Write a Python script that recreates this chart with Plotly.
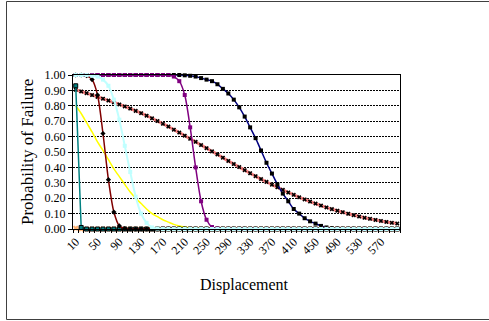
import plotly.graph_objects as go

displacement = list(range(10, 610, 10))
tick_labels = [10, 50, 90, 130, 170, 210, 250, 290, 330, 370, 410, 450, 490, 530, 570]
y_ticks = [0.0, 0.1, 0.2, 0.3, 0.4, 0.5, 0.6, 0.7, 0.8, 0.9, 1.0]

salmon = [0.904, 0.893, 0.882, 0.870, 0.858, 0.846, 0.834, 0.822, 0.809, 0.796,
          0.782, 0.767, 0.752, 0.736, 0.719, 0.701, 0.683, 0.665, 0.645, 0.626,
          0.606, 0.586, 0.566, 0.545, 0.525, 0.504, 0.484, 0.463, 0.442, 0.422,
          0.402, 0.382, 0.362, 0.343, 0.324, 0.306, 0.288, 0.271, 0.254, 0.237,
          0.222, 0.206, 0.192, 0.178, 0.165, 0.152, 0.140, 0.129, 0.119, 0.109,
          0.099, 0.090, 0.081, 0.073, 0.066, 0.059, 0.052, 0.046, 0.040, 0.035]

navy = [1.00, 1.00, 1.00, 1.00, 1.00, 1.00, 1.00, 1.00, 1.00, 1.00,
        1.00, 1.00, 1.00, 1.00, 1.00, 1.00, 1.00, 1.00, 1.00, 1.00,
        0.998, 0.995, 0.99, 0.98, 0.97, 0.96, 0.94, 0.91, 0.88, 0.84,
        0.79, 0.73, 0.66, 0.59, 0.51, 0.43, 0.36, 0.29, 0.23, 0.18,
        0.13, 0.10, 0.07, 0.05, 0.035, 0.02, 0.01, 0.005, 0.002, 0.0,
        0.0, 0.0, 0.0, 0.0, 0.0, 0.0, 0.0, 0.0, 0.0, 0.0]

peach = [0.005, 0.0, 0.0, 0.0, 0.0, 0.0, 0.0, 0.0, 0.0, 0.0,
         0.0, 0.0, 0.0, 0.0, 0.0, 0.0, 0.0, 0.0, 0.0, 0.0,
         0.0, 0.0, 0.0, 0.0, 0.0, 0.0, 0.0, 0.0, 0.0, 0.0,
         0.0, 0.0, 0.0, 0.0, 0.0, 0.0, 0.0, 0.0, 0.0, 0.0,
         0.0, 0.0, 0.0, 0.0, 0.0, 0.0, 0.0, 0.0, 0.0, 0.0,
         0.0, 0.0, 0.0, 0.0, 0.0, 0.0, 0.0, 0.0, 0.0, 0.0]

yellow = [0.80, 0.75, 0.69, 0.63, 0.565, 0.51, 0.45, 0.39, 0.34, 0.29,
          0.24, 0.20, 0.165, 0.13, 0.10, 0.08, 0.06, 0.045, 0.03, 0.02,
          0.013, 0.008, 0.005, 0.003, 0.001, 0.0, 0.0, 0.0, 0.0, 0.0,
          0.0, 0.0, 0.0, 0.0, 0.0, 0.0, 0.0, 0.0, 0.0, 0.0,
          0.0, 0.0, 0.0, 0.0, 0.0, 0.0, 0.0, 0.0, 0.0, 0.0,
          0.0, 0.0, 0.0, 0.0, 0.0, 0.0, 0.0, 0.0, 0.0, 0.0]

teal = [0.93, 0.01, 0.0, 0.0, 0.0, 0.0, 0.0, 0.0, 0.0, 0.0,
        0.0, 0.0, 0.0, 0.0, 0.0, 0.0, 0.0, 0.0, 0.0, 0.0,
        0.0, 0.0, 0.0, 0.0, 0.0, 0.0, 0.0, 0.0, 0.0, 0.0,
        0.0, 0.0, 0.0, 0.0, 0.0, 0.0, 0.0, 0.0, 0.0, 0.0,
        0.0, 0.0, 0.0, 0.0, 0.0, 0.0, 0.0, 0.0, 0.0, 0.0,
        0.0, 0.0, 0.0, 0.0, 0.0, 0.0, 0.0, 0.0, 0.0, 0.0]

dark_red = [1.00, 1.00, 0.995, 0.97, 0.87, 0.62, 0.32, 0.11, 0.02, 0.003,
            0.0, 0.0, 0.0, 0.0, 0.0, 0.0, 0.0, 0.0, 0.0, 0.0,
            0.0, 0.0, 0.0, 0.0, 0.0, 0.0, 0.0, 0.0, 0.0, 0.0,
            0.0, 0.0, 0.0, 0.0, 0.0, 0.0, 0.0, 0.0, 0.0, 0.0,
            0.0, 0.0, 0.0, 0.0, 0.0, 0.0, 0.0, 0.0, 0.0, 0.0,
            0.0, 0.0, 0.0, 0.0, 0.0, 0.0, 0.0, 0.0, 0.0, 0.0]

purple = [1.00, 1.00, 1.00, 1.00, 1.00, 1.00, 1.00, 1.00, 1.00, 1.00,
          1.00, 1.00, 1.00, 1.00, 1.00, 1.00, 1.00, 1.00, 0.99, 0.96,
          0.87, 0.66, 0.40, 0.18, 0.06, 0.013, 0.003, 0.0, 0.0, 0.0,
          0.0, 0.0, 0.0, 0.0, 0.0, 0.0, 0.0, 0.0, 0.0, 0.0,
          0.0, 0.0, 0.0, 0.0, 0.0, 0.0, 0.0, 0.0, 0.0, 0.0,
          0.0, 0.0, 0.0, 0.0, 0.0, 0.0, 0.0, 0.0, 0.0, 0.0]

cyan = [1.00, 1.00, 1.00, 0.995, 0.99, 0.97, 0.93, 0.84, 0.71, 0.54,
        0.37, 0.21, 0.10, 0.04, 0.01, 0.003, 0.0, 0.0, 0.0, 0.0,
        0.0, 0.0, 0.0, 0.0, 0.0, 0.0, 0.0, 0.0, 0.0, 0.0,
        0.0, 0.0, 0.0, 0.0, 0.0, 0.0, 0.0, 0.0, 0.0, 0.0,
        0.0, 0.0, 0.0, 0.0, 0.0, 0.0, 0.0, 0.0, 0.0, 0.0,
        0.0, 0.0, 0.0, 0.0, 0.0, 0.0, 0.0, 0.0, 0.0, 0.0]

fig = go.Figure()


def add(y, color, width, msym, mcolor, msize, shape="spline", mline=None):
    marker = dict(symbol=msym, color=mcolor, size=msize)
    if mline:
        marker["line"] = dict(color=mline, width=1)
    fig.add_trace(go.Scatter(
        x=displacement, y=y, mode="lines+markers" if msym else "lines",
        line=dict(color=color, width=width, shape=shape, smoothing=0.8),
        marker=marker if msym else None, cliponaxis=False, showlegend=False,
        hoverinfo="skip",
    ))


add(salmon, "#FF8080", 3, "x", "black", 4)
add(navy, "#000080", 1.5, "square", "black", 4)
add(peach, "#FFCC99", 1.5, "x", "#FFB070", 5, shape="linear")
add(yellow, "#FFFF00", 1.5, None, None, 0)
add(teal, "#008080", 1.5, "square", "#008080", 4, shape="linear", mline="black")
add(dark_red, "#800000", 1.5, "diamond", "black", 4)
add(purple, "#800080", 1.5, "square", "#800080", 4)
add(cyan, "#C0FFFF", 2, "square", "#C0FFFF", 4)

serif = "Liberation Serif"

fig.update_layout(
    width=489, height=321,
    margin=dict(l=73, r=89, t=75, b=92),
    paper_bgcolor="white", plot_bgcolor="white",
    font=dict(family=serif, size=12, color="black"),
    xaxis=dict(
        range=[5, 605], tickmode="array", tickvals=tick_labels,
        ticktext=[str(v) for v in tick_labels], tickangle=-45,
        ticks="", showgrid=False, zeroline=False,
        showline=True, linecolor="black", linewidth=1, mirror=True,
        tickfont=dict(family=serif, size=12),
        minor=dict(tickmode="linear", tick0=5, dtick=10, ticks="outside",
                   ticklen=3, tickcolor="black", showgrid=False),
    ),
    yaxis=dict(
        range=[0, 1], tickmode="array", tickvals=y_ticks, tickformat=".2f",
        ticks="outside", ticklen=4, tickcolor="black",
        showgrid=True, gridcolor="black", gridwidth=1, griddash="2px,1px",
        zeroline=False, showline=True, linecolor="black", linewidth=1, mirror=True,
        tickfont=dict(family=serif, size=12),
    ),
    annotations=[
        dict(text="Probability of Failure", xref="paper", yref="paper",
             x=(27 - 73) / 327, y=0.5, textangle=-90, showarrow=False,
             font=dict(family=serif, size=17), xanchor="center", yanchor="middle"),
        dict(text="Displacement", xref="paper", yref="paper",
             x=(244.7 - 73) / 327, y=(229 - 285) / 154, showarrow=False,
             font=dict(family=serif, size=16), xanchor="center", yanchor="middle"),
    ],
    shapes=[
        dict(type="rect", xref="paper", yref="paper",
             x0=(6.5 - 73) / 327, x1=(500 - 73) / 327,
             y0=(229 - 319.5) / 154, y1=(229 - 1.5) / 154,
             line=dict(color="#404040", width=1), layer="below"),
    ],
)

fig.write_html("out.html", config={"displayModeBar": False},
               post_script="document.body.style.margin='0';")
